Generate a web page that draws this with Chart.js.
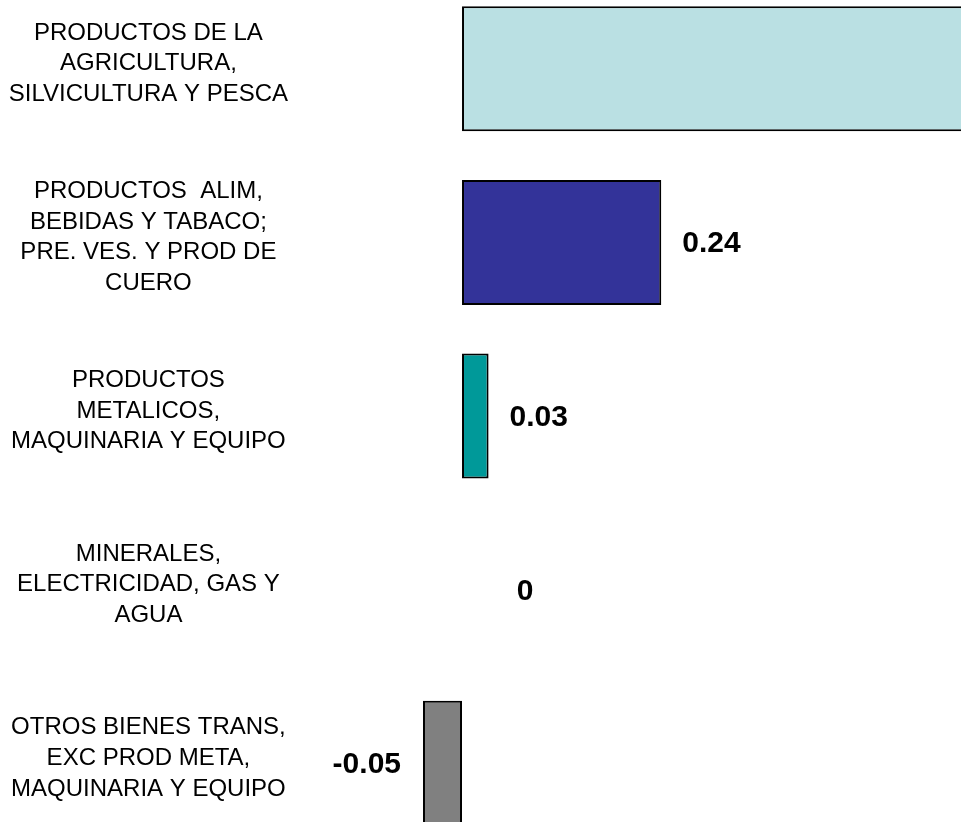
<!DOCTYPE html>
<html>

<head>
    <meta charset='utf-8'>
    <title>Productos</title>
    <script src="https://cdn.jsdelivr.net/npm/chart.js@4.4.1/dist/chart.umd.min.js"></script>
    <style>
        html, body { margin: 0; padding: 0; background: #fff; overflow: hidden; }
        body { width: 961px; height: 822px; position: relative; }
        #chart { position: absolute; left: 0; top: -18px; }
    </style>
</head>

<body>
    <canvas id="chart" width="961" height="868"></canvas>
    <script>
        // categories (one array of lines per label)
        var categories = [
            ['PRODUCTOS DE LA', 'AGRICULTURA,', 'SILVICULTURA Y PESCA'],
            ['PRODUCTOS  ALIM,', 'BEBIDAS Y TABACO;', 'PRE. VES. Y PROD DE', 'CUERO'],
            ['PRODUCTOS', 'METALICOS,', 'MAQUINARIA Y EQUIPO'],
            ['MINERALES,', 'ELECTRICIDAD, GAS Y', 'AGUA'],
            ['OTROS BIENES TRANS,', 'EXC PROD META,', 'MAQUINARIA Y EQUIPO']
        ];
        // first bar runs off the picture, its value is only estimated
        var values = [0.7, 0.24, 0.032, 0, -0.047];
        var barColors = ['#BAE0E3', '#333399', '#009999', '#808080', '#808080'];

        var FONT = '"Liberation Sans", Arial, sans-serif';

        // value labels, Excel-like: right of positive bars, left of negative ones
        var valueLabels = {
            id: 'valueLabels',
            afterDatasetsDraw(chart) {
                var ctx = chart.ctx;
                var meta = chart.getDatasetMeta(0);
                var xs = chart.scales.x;
                var zero = xs.getPixelForValue(0);
                ctx.save();
                ctx.font = 'bold 30px ' + FONT;
                ctx.fillStyle = '#000';
                ctx.textBaseline = 'alphabetic';
                meta.data.forEach(function (bar, i) {
                    var v = values[i];
                    if (v > xs.max) return;
                    var y = bar.y + 10;
                    var txt = String(Number(v.toFixed(2)));
                    if (v > 0) {
                        ctx.textAlign = 'left';
                        ctx.fillText(txt, bar.x + 21, y);
                    } else if (v < 0) {
                        ctx.textAlign = 'right';
                        ctx.fillText(txt, bar.x - 22, y);
                    } else {
                        ctx.textAlign = 'center';
                        ctx.fillText(txt, zero + 63, y);
                    }
                });
                ctx.restore();
            }
        };

        var ctx = document.getElementById('chart').getContext('2d');
        var chart = new Chart(ctx, {
            type: 'bar',
            data: {
                labels: categories,
                datasets: [{
                    data: values,
                    backgroundColor: barColors,
                    borderColor: '#000000',
                    borderWidth: 2,
                    borderSkipped: false,
                    barPercentage: 0.72,
                    categoryPercentage: 1
                }]
            },
            options: {
                indexAxis: 'y',
                responsive: false,
                animation: false,
                layout: { padding: 0 },
                scales: {
                    x: {
                        display: false,
                        min: -0.2096,
                        max: 0.601
                    },
                    y: {
                        border: { display: false },
                        grid: { display: false, drawTicks: false },
                        afterFit: function (scale) {
                            scale.width = 288;
                            scale.paddingTop = 0;
                            scale.paddingBottom = 0;
                        },
                        ticks: {
                            crossAlign: 'center',
                            padding: 0,
                            labelOffset: -5,
                            color: '#000',
                            font: { family: FONT, size: 24, lineHeight: 1.28 }
                        }
                    }
                },
                plugins: {
                    legend: { display: false },
                    tooltip: { enabled: false }
                }
            },
            plugins: [valueLabels]
        });
    </script>
</body>

</html>
